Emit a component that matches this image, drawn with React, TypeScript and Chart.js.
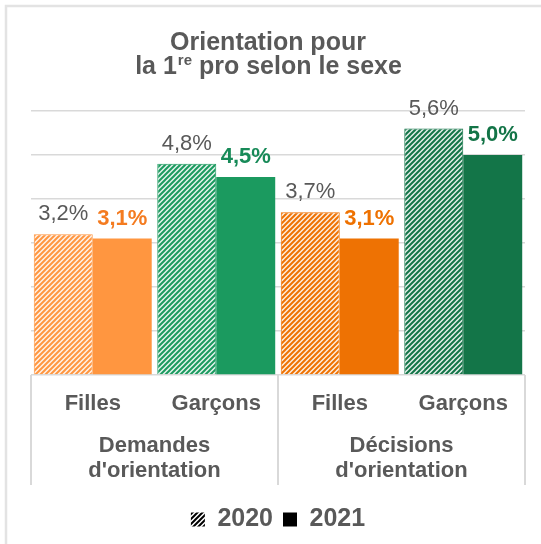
import React, { useEffect, useRef } from "react";
import { Chart, registerables } from "chart.js";

Chart.register(...registerables);

// ---- Data ----
const categories = ["Filles", "Garçons", "Filles", "Garçons"];
const groupLabels = [["Demandes", "d'orientation"], ["Décisions", "d'orientation"]];
const seriesNames = ["2020", "2021"];
const values2020 = [3.2, 4.8, 3.7, 5.6];
const values2021 = [3.1, 4.5, 3.1, 5.0];
const yMin = 0;
const yMax = 6;
const yStep = 1;
const titleLine1 = "Orientation pour";
const titleLine2 = ["la 1", "re", " pro selon le sexe"];

// ---- Styles ----
const barColors = ["#FF9640", "#1B9A5F", "#EE7203", "#137548"];
const label2021Colors = ["#F47B20", "#178A58", "#EE7100", "#137447"];
const textGray = "#595959";
const gridGray = "#d9d9d9";
const FONT = "'Liberation Sans', Arial, Helvetica, sans-serif";

function hatch(color: string, tint: number, size = 5, lw = 2) {
  const c = document.createElement("canvas");
  c.width = size;
  c.height = size;
  const g = c.getContext("2d")!;
  g.fillStyle = "#ffffff";
  g.fillRect(0, 0, size, size);
  g.globalAlpha = tint;
  g.fillStyle = color;
  g.fillRect(0, 0, size, size);
  g.globalAlpha = 1;
  g.strokeStyle = color;
  g.lineWidth = lw;
  g.beginPath();
  g.moveTo(-1, size + 1);
  g.lineTo(size + 1, -1);
  g.moveTo(-2, 2);
  g.lineTo(2, -2);
  g.moveTo(size - 2, size + 2);
  g.lineTo(size + 2, size - 2);
  g.stroke();
  return g.createPattern(c, "repeat")!;
}

const fmt = (v: number) => v.toFixed(1).replace(".", ",") + "%";

export default function App() {
  const ref = useRef<HTMLCanvasElement | null>(null);

  useEffect(() => {
    const canvas = ref.current;
    if (!canvas) return;

    const hatchPatterns = barColors.map((c) => hatch(c, 0.12));
    const legendHatch = hatch("#000000", 0, 5, 2);

    const framePlugin = {
      id: "frame",
      beforeDraw(chart: any) {
        const ctx = chart.ctx;
        ctx.save();
        ctx.fillStyle = "#ffffff";
        ctx.fillRect(0, 0, chart.width, chart.height);
        ctx.strokeStyle = "#e3e3e3";
        ctx.lineWidth = 2.5;
        ctx.beginPath();
        ctx.moveTo(6, chart.height);
        ctx.lineTo(6, 6);
        ctx.lineTo(chart.width, 6);
        ctx.stroke();
        ctx.restore();
      },
    };

    const titlePlugin = {
      id: "titleDraw",
      afterDraw(chart: any) {
        const ctx = chart.ctx;
        const main = `bold 25px ${FONT}`;
        const sup = `bold 15px ${FONT}`;
        const cx = 268;
        ctx.save();
        ctx.fillStyle = textGray;
        ctx.textBaseline = "alphabetic";
        ctx.font = main;
        ctx.textAlign = "center";
        ctx.fillText(titleLine1, cx, 50);
        ctx.textAlign = "left";
        const w1 = ctx.measureText(titleLine2[0]).width;
        const w3 = ctx.measureText(titleLine2[2]).width;
        ctx.font = sup;
        const w2 = ctx.measureText(titleLine2[1]).width;
        let x = cx - (w1 + w2 + w3) / 2;
        ctx.font = main;
        ctx.fillText(titleLine2[0], x, 74);
        x += w1;
        ctx.font = sup;
        ctx.fillText(titleLine2[1], x + 1, 65);
        x += w2 + 1;
        ctx.font = main;
        ctx.fillText(titleLine2[2], x, 74);
        ctx.restore();
      },
    };

    const valueLabelPlugin = {
      id: "valueLabels",
      afterDatasetsDraw(chart: any) {
        const ctx = chart.ctx;
        ctx.save();
        ctx.textAlign = "center";
        ctx.textBaseline = "alphabetic";
        chart.data.datasets.forEach((ds: any, di: number) => {
          const meta = chart.getDatasetMeta(di);
          meta.data.forEach((bar: any, i: number) => {
            ctx.font = di === 0 ? `22px ${FONT}` : `bold 22px ${FONT}`;
            ctx.fillStyle = di === 0 ? textGray : label2021Colors[i];
            ctx.fillText(fmt(ds.data[i]), bar.x, bar.y - 14);
          });
        });
        ctx.restore();
      },
    };

    const separatorPlugin = {
      id: "separators",
      afterDraw(chart: any) {
        const ctx = chart.ctx;
        const area = chart.chartArea;
        const x2 = chart.scales.x2;
        const mid = (area.left + area.right) / 2;
        const end = x2.top + 60;
        ctx.save();
        ctx.strokeStyle = gridGray;
        ctx.lineWidth = 2;
        ctx.beginPath();
        [area.left, mid, area.right].forEach((x: number) => {
          ctx.moveTo(x, area.bottom);
          ctx.lineTo(x, end);
        });
        ctx.stroke();
        ctx.restore();
      },
    };

    const chart = new Chart(canvas, {
      type: "bar",
      data: {
        labels: categories,
        datasets: [
          {
            label: seriesNames[0],
            data: values2020,
            backgroundColor: hatchPatterns as any,
            borderColor: barColors,
            borderWidth: 1,
            borderSkipped: "start",
            categoryPercentage: 0.955,
            barPercentage: 1,
          },
          {
            label: seriesNames[1],
            data: values2021,
            backgroundColor: barColors,
            borderWidth: 0,
            categoryPercentage: 0.955,
            barPercentage: 1,
          },
        ],
      },
      options: {
        responsive: false,
        animation: false,
        layout: { padding: { left: 31, right: 16, top: 111, bottom: 2 } },
        plugins: {
          title: { display: false },
          tooltip: { enabled: false },
          legend: {
            display: true,
            position: "bottom",
            labels: {
              boxWidth: 14,
              boxHeight: 14,
              padding: 10,
              color: textGray,
              font: { family: FONT, size: 25, weight: "bold" },
              generateLabels: () =>
                seriesNames.map((n, i) => ({
                  text: n,
                  fillStyle: i === 0 ? legendHatch : "#000000",
                  strokeStyle: "rgba(0,0,0,0)",
                  lineWidth: 0,
                  hidden: false,
                  datasetIndex: i,
                  fontColor: textGray,
                })) as any,
            },
          },
        },
        scales: {
          x: {
            type: "category",
            position: "bottom",
            weight: 0,
            grid: { display: false, drawTicks: false },
            border: { display: false },
            ticks: {
              padding: 16,
              color: textGray,
              font: { family: FONT, size: 22, weight: "bold" },
              maxRotation: 0,
              autoSkip: false,
            },
            afterFit: (s: any) => {
              s.height = 50;
            },
          },
          x2: {
            type: "category",
            position: "bottom",
            weight: 1,
            labels: groupLabels as any,
            offset: true,
            grid: { display: false, drawTicks: false },
            border: { display: false },
            ticks: {
              padding: 8,
              color: textGray,
              font: { family: FONT, size: 22, weight: "bold", lineHeight: 1.14 },
              maxRotation: 0,
              autoSkip: false,
            },
            afterFit: (s: any) => {
              s.height = 72;
            },
          },
          y: {
            min: yMin,
            max: yMax,
            ticks: { display: false, stepSize: yStep },
            grid: { color: gridGray, lineWidth: 1.5, drawTicks: false },
            border: { display: false },
          },
        },
      },
      plugins: [framePlugin, titlePlugin, valueLabelPlugin, separatorPlugin],
    });

    return () => chart.destroy();
  }, []);

  return (
    <div style={{ position: "absolute", left: 0, top: 0, width: 541, height: 544 }}>
      <canvas ref={ref} width={541} height={544} style={{ display: "block" }} />
    </div>
  );
}
